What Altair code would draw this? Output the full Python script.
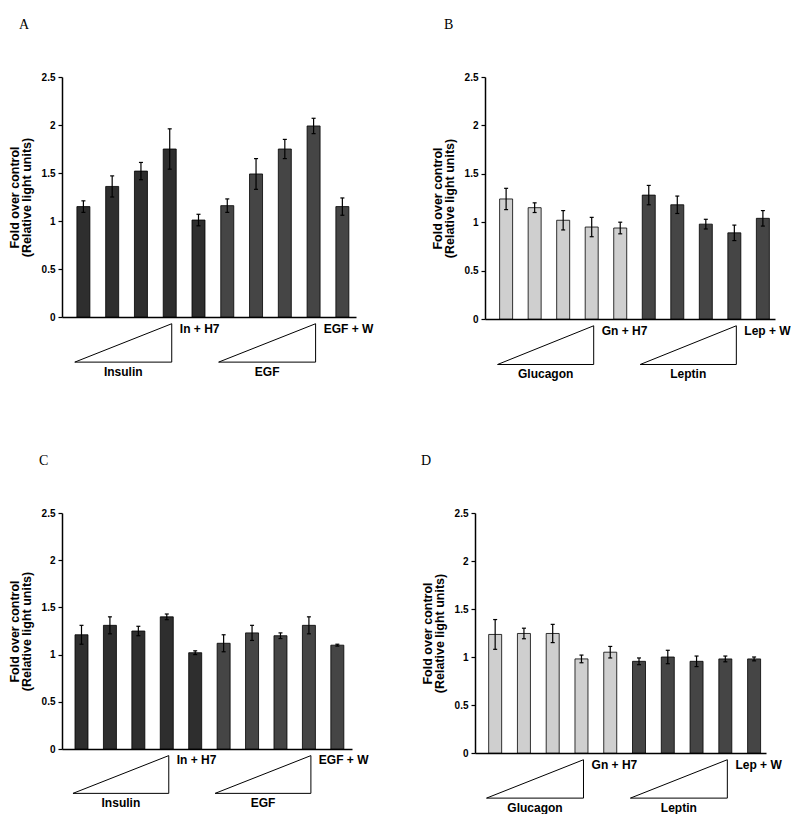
import altair as alt
import pandas as pd

# ---------------- data ----------------
bar_index = list(range(1, 11))

A_mean = [1.15, 1.36, 1.52, 1.75, 1.01, 1.16, 1.49, 1.75, 1.99, 1.15]
A_err = [0.06, 0.11, 0.09, 0.21, 0.06, 0.07, 0.16, 0.10, 0.08, 0.09]
A_fill = ["dot"] * 5 + ["hatch"] * 5

B_mean = [1.24, 1.15, 1.02, 0.95, 0.94, 1.28, 1.18, 0.98, 0.89, 1.04]
B_err = [0.11, 0.05, 0.10, 0.10, 0.06, 0.10, 0.09, 0.05, 0.08, 0.08]
B_fill = ["light"] * 5 + ["hatch"] * 5

C_mean = [1.21, 1.31, 1.25, 1.40, 1.02, 1.12, 1.23, 1.20, 1.31, 1.10]
C_err = [0.10, 0.09, 0.05, 0.03, 0.02, 0.09, 0.08, 0.03, 0.09, 0.01]
C_fill = ["dot"] * 5 + ["hatch"] * 5

D_mean = [1.235, 1.245, 1.245, 0.98, 1.05, 0.955, 1.00, 0.955, 0.98, 0.98]
D_err = [0.155, 0.055, 0.095, 0.04, 0.06, 0.035, 0.07, 0.055, 0.03, 0.02]
D_fill = ["light"] * 5 + ["hatch"] * 5

insulin_labels = ["Insulin", "In + H7", "EGF", "EGF + W"]
glucagon_labels = ["Glucagon", "Gn + H7", "Leptin", "Lep + W"]

y_ticks = [0, 0.5, 1, 1.5, 2, 2.5]
y_title = ["Fold over control", "(Relative light units)"]

panels = {
    "A": dict(mean=A_mean, err=A_err, fill=A_fill, labels=insulin_labels,
              xdom=[0.43, 10.30], w=294, h=240, dx=-43),
    "B": dict(mean=B_mean, err=B_err, fill=B_fill, labels=glucagon_labels,
              xdom=[0.435, 10.25], w=290, h=242, dx=-41),
    "C": dict(mean=C_mean, err=C_err, fill=C_fill, labels=insulin_labels,
              xdom=[0.49, 10.34], w=290, h=236, dx=-23),
    "D": dict(mean=D_mean, err=D_err, fill=D_fill, labels=glucagon_labels,
              xdom=[0.473, 10.24], w=291, h=240, dx=-54),
}

# dose groups: bars 1-4 and 6-9, combination bars 5 and 10
dose_groups = [(1, 4), (6, 9)]

FONT = "Liberation Sans"
TRI_TOP = -0.07
TRI_BOT = -0.47


def make_panel(key):
    p = panels[key]
    df = pd.DataFrame({"idx": bar_index, "mean": p["mean"], "err": p["err"], "fill": p["fill"]})
    xs = alt.Scale(domain=p["xdom"], nice=False, zero=False)
    ys = alt.Scale(domain=[0, 2.5], nice=False, zero=True)
    xaxis = alt.Axis(title=None, labels=False, ticks=False, grid=False,
                     domainColor="black", domainWidth=1.5)
    yaxis = alt.Axis(title=y_title, values=y_ticks, format="~g", grid=False,
                     domainColor="black", domainWidth=1.5, tickColor="black",
                     tickSize=4, tickWidth=1.2, labelPadding=3,
                     labelFont=FONT, labelFontSize=10, labelFontWeight="bold",
                     labelColor="black",
                     titleFont=FONT, titleFontSize=12.5, titleFontWeight="bold",
                     titleColor="black", titlePadding=8, titleLineHeight=12)

    def X(f):
        return alt.X(f, type="quantitative", scale=xs, axis=xaxis)

    def Y(f):
        return alt.Y(f, type="quantitative", scale=ys, axis=yaxis)

    base = alt.Chart(df)
    bars = base.mark_bar(size=13, stroke="black", strokeWidth=0.8).encode(
        x=X("idx"), y=Y("mean"),
        color=alt.Color("fill:N", legend=None,
                        scale=alt.Scale(domain=["dot", "hatch", "light"],
                                        range=["#2e2e2e", "#454545", "#cfcfcf"])),
    )
    calc = base.transform_calculate(
        lo="datum.mean - datum.err", hi="datum.mean + datum.err",
        x0="datum.idx - 0.07", x1="datum.idx + 0.07")
    err = calc.mark_rule(color="black", strokeWidth=1.2).encode(
        x=X("idx"), y=Y("lo"), y2="hi:Q")
    cap_hi = calc.mark_rule(color="black", strokeWidth=1.2).encode(
        x=X("x0"), x2="x1:Q", y=Y("hi"))
    cap_lo = calc.mark_rule(color="black", strokeWidth=1.2).encode(
        x=X("x0"), x2="x1:Q", y=Y("lo"))

    # dose triangles below the axis
    tri_rows = []
    lab_c = []
    lab_l = []
    for g, (first, last) in enumerate(dose_groups):
        left = first - 0.3
        right = last + 0.07
        pts = [(left, TRI_BOT), (right, TRI_TOP), (right, TRI_BOT), (left, TRI_BOT)]
        for o, (tx, ty) in enumerate(pts):
            tri_rows.append({"tri": g, "ord": o, "tx": tx, "ty": ty})
        lab_c.append({"lx": (left + right) / 2, "ly": -0.57, "t": p["labels"][2 * g]})
        lab_l.append({"lx": last + 0.35, "ly": -0.12, "t": p["labels"][2 * g + 1]})
    tri = alt.Chart(pd.DataFrame(tri_rows)).mark_line(color="black", strokeWidth=1).encode(
        x=X("tx"), y=Y("ty"), detail="tri:N", order="ord:Q")
    txt_c = alt.Chart(pd.DataFrame(lab_c)).mark_text(
        align="center", baseline="middle", font=FONT, fontSize=12,
        fontWeight="bold", color="black").encode(x=X("lx"), y=Y("ly"), text="t:N")
    txt_l = alt.Chart(pd.DataFrame(lab_l)).mark_text(
        align="left", baseline="middle", font=FONT, fontSize=12,
        fontWeight="bold", color="black").encode(x=X("lx"), y=Y("ly"), text="t:N")

    return alt.layer(bars, err, cap_hi, cap_lo, tri, txt_c, txt_l).properties(
        width=p["w"], height=p["h"],
        title=alt.TitleParams(text=key, anchor="start", frame="group",
                              font="Liberation Serif",
                              fontSize=14, fontWeight="normal", color="black",
                              dx=p["dx"], offset=40),
    )


row1 = alt.hconcat(make_panel("A"), make_panel("B"), spacing=57)
row2 = alt.hconcat(make_panel("C"), make_panel("D"), spacing=52)

chart = alt.vconcat(row1, row2, spacing=73).properties(
    padding={"left": 0, "top": 10, "right": 0, "bottom": 0}
).configure_view(stroke=None).configure_axis(grid=False)

chart.save("out.html", embed_options={"renderer": "svg", "actions": False})
